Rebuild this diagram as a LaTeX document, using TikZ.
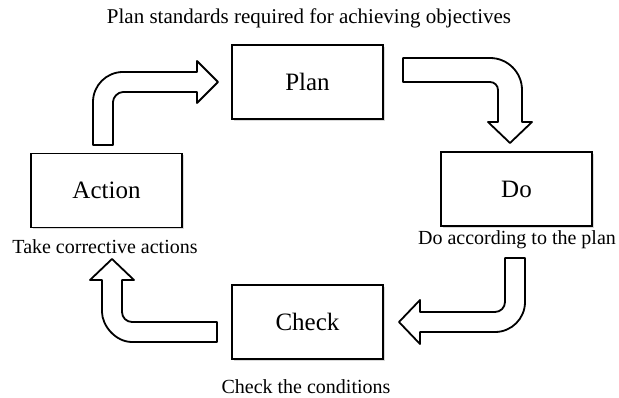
\documentclass[tikz,border=0pt]{standalone}
\usepackage{fontspec}
\setmainfont{Liberation Serif}
\usepackage{tikz}
\usetikzlibrary{positioning, shadows}
\tikzstyle{phase} = [rectangle, draw=black, line width=1.8pt, fill=white, minimum width=151pt, minimum height=74pt, font=\fontsize{25}{30}\selectfont, drop shadow={opacity=0.3, shadow xshift=2pt, shadow yshift=-2pt}]
\tikzstyle{note} = [font=\fontsize{20}{24}\selectfont, inner sep=0pt]
\tikzstyle{bentarrow} = [draw=black, line width=1.8pt, fill=white, line join=round]

\begin{document}
\begin{tikzpicture}[x=1pt, y=-1pt]
\useasboundingbox (0,0) rectangle (619,398);

\node (plan) [phase] at (307.5,82) {Plan};
\node (action) [phase] at (106.5,190.5) {Action};
\node (do) [phase] at (516.5,189) {Do};
\node (check) [phase] at (307.5,322) {Check};

\node (goal) [note, font=\fontsize{21}{25}\selectfont] at (309,18) {Plan standards required for achieving objectives};
\node (correct) [note] at (105,247) {Take corrective actions};
\node (execute) [note] at (517,240) {Do according to the plan};
\node (verify) [note] at (306,387) {Check the conditions};

% action -> plan
\draw [bentarrow] (93,145) -- (93,102) .. controls (93,85.4) and (106.4,72) .. (123,72) -- (197,72) -- (197,61) -- (218,82) -- (197,103) -- (197,92) -- (123,92) .. controls (117.5,92) and (113,97.5) .. (113,102) -- (113,145) -- cycle;
% plan -> do
\draw [bentarrow] (403,58) -- (490,58) .. controls (507.7,58) and (522,72.3) .. (522,90) -- (522,122) -- (532,122) -- (510,143) -- (488,122) -- (498,122) -- (498,90) .. controls (498,85.6) and (494.4,82) .. (490,82) -- (403,82) -- cycle;
% do -> check
\draw [bentarrow] (505,258) -- (525,258) -- (525,302) .. controls (525,318.6) and (511.6,332) .. (495,332) -- (420,332) -- (420,344) -- (399,322) -- (420,300) -- (420,312) -- (495,312) .. controls (500.5,312) and (505,307.5) .. (505,302) -- cycle;
% check -> action
\draw [bentarrow] (217,342) -- (132,342) .. controls (115.4,342) and (102,325.4) .. (102,312) -- (102,280) -- (90,280) -- (112,259) -- (134,280) -- (122,280) -- (122,312) .. controls (122,317.5) and (126.5,322) .. (132,322) -- (217,322) -- cycle;

\end{tikzpicture}
\end{document}
